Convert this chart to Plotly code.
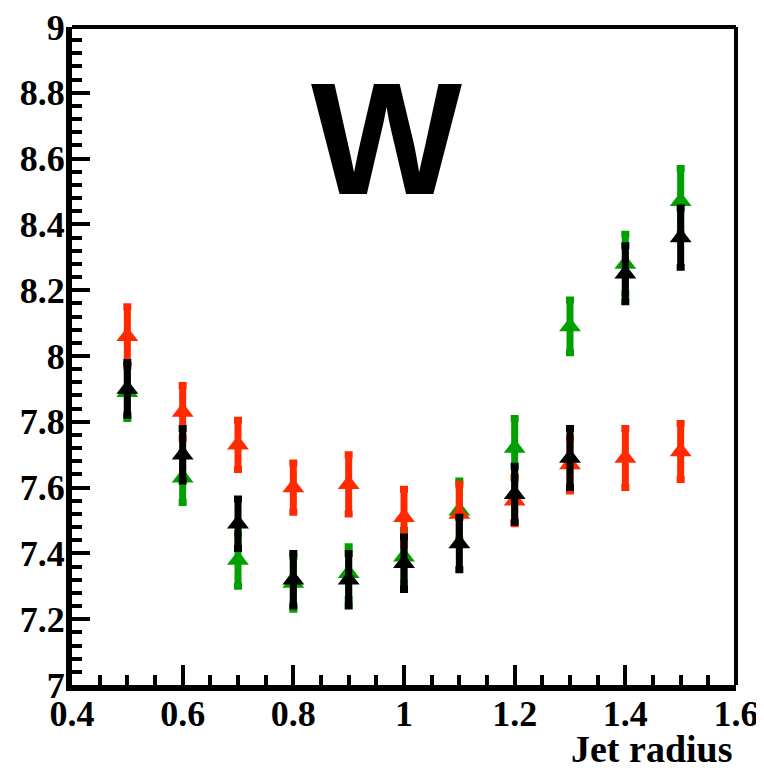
import plotly.graph_objects as go

jet_radius = [0.5, 0.6, 0.7, 0.8, 0.9, 1.0, 1.1, 1.2, 1.3, 1.4, 1.5]

green_vals = [7.89, 7.63, 7.38, 7.31, 7.34, 7.39, 7.53, 7.72, 8.09, 8.28, 8.47]
green_errs = [0.08, 0.075, 0.08, 0.08, 0.08, 0.08, 0.09, 0.09, 0.08, 0.09, 0.10]

red_vals = [8.06, 7.83, 7.73, 7.60, 7.61, 7.51, 7.52, 7.56, 7.67, 7.69, 7.71]
red_errs = [0.09, 0.08, 0.075, 0.075, 0.09, 0.085, 0.09, 0.07, 0.08, 0.09, 0.085]

black_vals = [7.90, 7.70, 7.49, 7.32, 7.32, 7.37, 7.43, 7.58, 7.69, 8.25, 8.36]
black_errs = [0.08, 0.08, 0.075, 0.08, 0.08, 0.08, 0.08, 0.085, 0.09, 0.085, 0.09]

x_ticks = [0.4, 0.6, 0.8, 1.0, 1.2, 1.4, 1.6]
x_tick_labels = ["0.4", "0.6", "0.8", "1", "1.2", "1.4", "1.6"]
y_ticks = [7.0, 7.2, 7.4, 7.6, 7.8, 8.0, 8.2, 8.4, 8.6, 8.8, 9.0]
y_tick_labels = ["7", "7.2", "7.4", "7.6", "7.8", "8", "8.2", "8.4", "8.6", "8.8", "9"]

series = [
    ("green", green_vals, green_errs, "#00a000"),
    ("red", red_vals, red_errs, "#ff2a00"),
    ("black", black_vals, black_errs, "#000000"),
]

fig = go.Figure()
for name, vals, errs, col in series:
    fig.add_trace(go.Scatter(
        x=jet_radius, y=vals, mode="markers", name=name,
        marker=dict(symbol="triangle-up", size=19, color=col, line=dict(width=0)),
        error_y=dict(type="data", array=errs, color=col, thickness=7, width=4),
        showlegend=False,
    ))

tickfont = dict(family="Liberation Serif", size=36, color="black", weight="bold")

# page body has an 8px margin, so the figure is 8px smaller and offset
fig.update_layout(
    width=756, height=760,
    margin=dict(l=64, r=28, t=19, b=83),
    paper_bgcolor="white", plot_bgcolor="white",
    xaxis=dict(
        range=[0.4, 1.6], showgrid=False, zeroline=False, automargin=False,
        showline=True, linecolor="black", linewidth=6,
        ticks="inside", ticklen=20, tickwidth=4, tickcolor="black",
        tickvals=x_ticks, ticktext=x_tick_labels, tickfont=tickfont,
        ticklabeloverflow="allow", ticklabelstandoff=-8,
        minor=dict(dtick=0.05, tick0=0.4, ticks="inside", ticklen=10, tickwidth=4, tickcolor="black", showgrid=False),
    ),
    yaxis=dict(
        range=[7.0, 9.0], showgrid=False, zeroline=False, automargin=False,
        showline=True, linecolor="black", linewidth=6,
        ticks="inside", ticklen=18, tickwidth=4, tickcolor="black",
        tickvals=y_ticks, ticktext=y_tick_labels, tickfont=tickfont,
        ticklabeloverflow="allow", ticklabelstandoff=-6,
        minor=dict(dtick=0.04, tick0=7.0, ticks="inside", ticklen=10, tickwidth=4, tickcolor="black", showgrid=False),
    ),
    shapes=[
        dict(type="line", xref="paper", yref="paper", x0=0, x1=1, y0=1, y1=1, line=dict(color="black", width=4)),
        dict(type="line", xref="paper", yref="paper", x0=1, x1=1, y0=0, y1=1, line=dict(color="black", width=4)),
    ],
    annotations=[
        dict(text="W", xref="x", yref="y", x=0.968, y=8.66, showarrow=False,
             font=dict(family="Liberation Sans", size=160, color="black", weight="bold"),
             xanchor="center", yanchor="middle"),
        dict(text="Jet radius", xref="paper", yref="paper", x=0.998, y=-0.097, showarrow=False,
             font=dict(family="Liberation Serif", size=38, color="black", weight="bold"),
             xanchor="right", yanchor="middle"),
    ],
)

fig.write_html("out.html")
